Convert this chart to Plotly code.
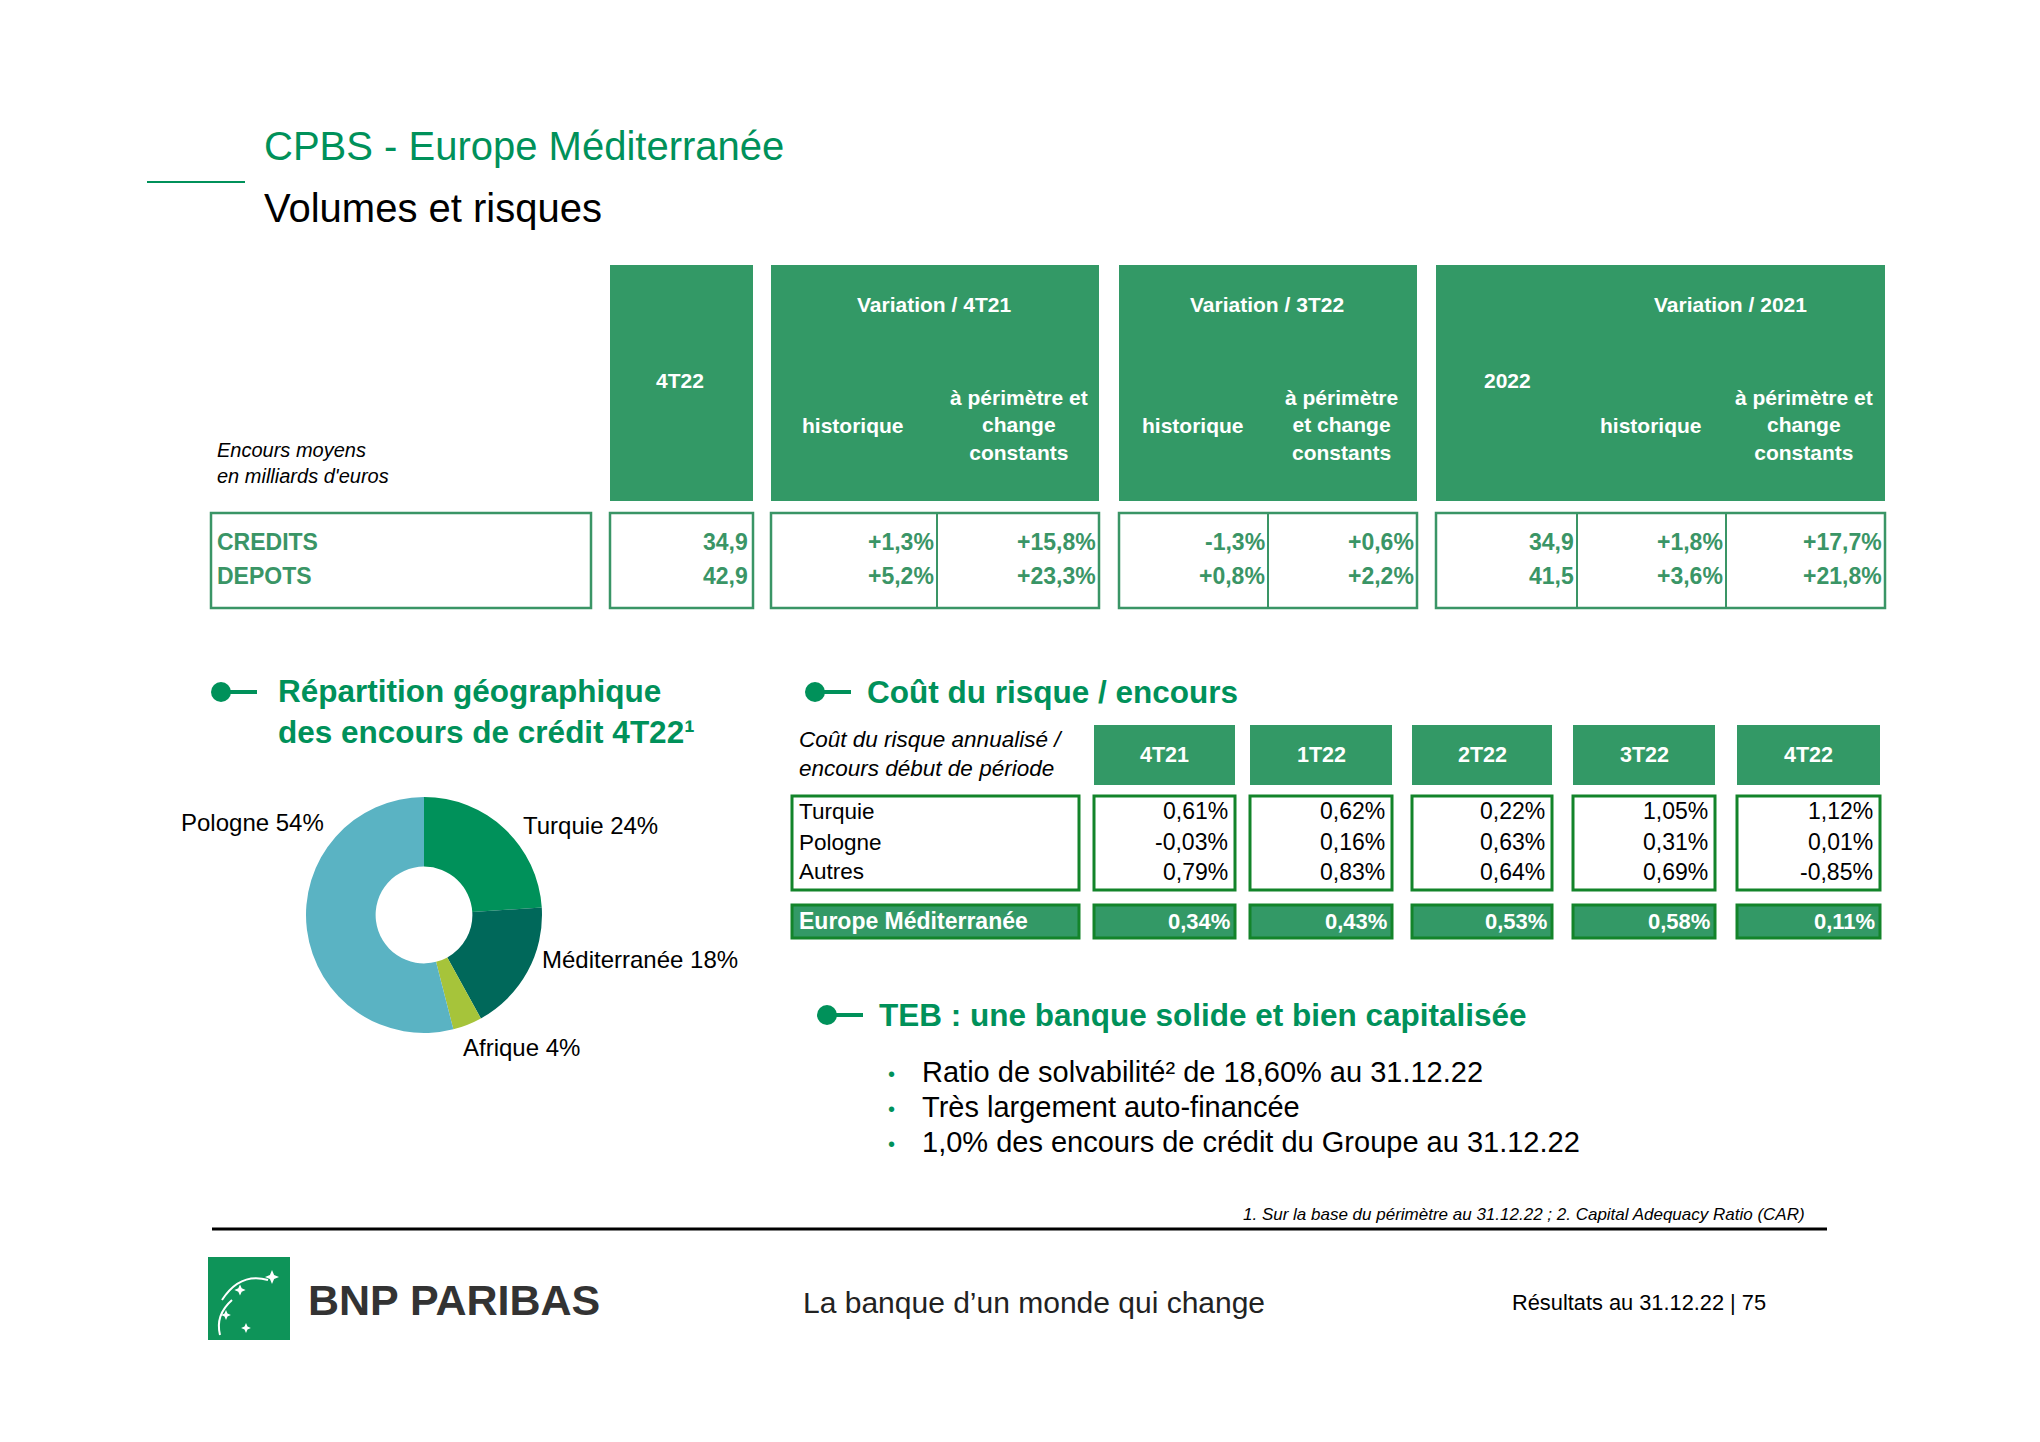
import plotly.graph_objects as go

W, H = 2040, 1442
OFF = 8  # the page body adds an 8px margin around the figure

# --- data ---------------------------------------------------------------
top_rows = ["CREDITS", "DEPOTS"]
encours_4t22 = [34.9, 42.9]
var_4t21_hist = [1.3, 5.2]
var_4t21_const = [15.8, 23.3]
var_3t22_hist = [-1.3, 0.8]
var_3t22_const = [0.6, 2.2]
encours_2022 = [34.9, 41.5]
var_2021_hist = [1.8, 3.6]
var_2021_const = [17.7, 21.8]

geo_labels = ["Turquie", "Méditerranée", "Afrique", "Pologne"]
geo_share = [24, 18, 4, 54]
geo_colors = ["#00915a", "#00685a", "#a6c43a", "#5ab3c3"]

cdr_periods = ["4T21", "1T22", "2T22", "3T22", "4T22"]
cdr_rows = ["Turquie", "Pologne", "Autres"]
cdr_turquie = [0.61, 0.62, 0.22, 1.05, 1.12]
cdr_pologne = [-0.03, 0.16, 0.63, 0.31, 0.01]
cdr_autres = [0.79, 0.83, 0.64, 0.69, -0.85]
cdr_europe_med = [0.34, 0.43, 0.53, 0.58, 0.11]

teb_points = [
    "Ratio de solvabilité² de 18,60% au 31.12.22",
    "Très largement auto-financée",
    "1,0% des encours de crédit du Groupe au 31.12.22",
]

# --- helpers -------------------------------------------------------------
FONT = "Liberation Sans, Arial, sans-serif"
GREEN = "#00915a"
HEAD = "#339966"
BOX = "#3a9566"
DARK = "#13842a"

shapes = []
annotations = []


def X(x):
    return (x - OFF) / W


def Y(y):
    return 1 - (y - OFF) / H


def rect(x0, y0, x1, y1, fill="rgba(0,0,0,0)", line=None, width=0):
    shapes.append(dict(type="rect", xref="paper", yref="paper",
                       x0=X(x0), x1=X(x1), y0=Y(y1), y1=Y(y0),
                       fillcolor=fill, line=dict(color=line or fill, width=width)))


def hline(x0, x1, y, color, width):
    shapes.append(dict(type="line", xref="paper", yref="paper",
                       x0=X(x0), x1=X(x1), y0=Y(y), y1=Y(y),
                       line=dict(color=color, width=width)))


def vline(x, y0, y1, color, width):
    shapes.append(dict(type="line", xref="paper", yref="paper",
                       x0=X(x), x1=X(x), y0=Y(y0), y1=Y(y1),
                       line=dict(color=color, width=width)))


def text(x, y, s, size, color="#000000", anchor="left", align="left"):
    annotations.append(dict(xref="paper", yref="paper", x=X(x), y=Y(y), text=s,
                            showarrow=False, xanchor=anchor, yanchor="middle",
                            align=align, borderpad=0,
                            font=dict(size=size, color=color, family=FONT)))


def bullet_icon(x, y):
    shapes.append(dict(type="circle", xref="paper", yref="paper",
                       x0=X(x), x1=X(x + 20), y0=Y(y + 10), y1=Y(y - 10),
                       fillcolor=GREEN, line=dict(width=0)))
    hline(x + 10, x + 46, y, GREEN, 4)


def pct(v, sign=True):
    s = f"{v:+.1f}%" if sign else f"{v:.1f}"
    return s.replace(".", ",")


def pct2(v):
    return f"{v:.2f}%".replace(".", ",")


# --- title ---------------------------------------------------------------
hline(147, 245, 182, GREEN, 2)
text(263, 146, "CPBS - Europe Méditerranée", 40, GREEN)
text(263, 208, "Volumes et risques", 40, "#000000")

# --- top table -----------------------------------------------------------
blocks = [(610, 753), (771, 1099), (1119, 1417), (1436, 1885)]
for x0, x1 in blocks:
    rect(x0, 265, x1, 501, fill=HEAD)
    rect(x0, 513, x1, 608, line=BOX, width=2.5)
rect(211, 513, 591, 608, line=BOX, width=2.5)
for xd in [937, 1268, 1577, 1726]:
    vline(xd, 513, 608, BOX, 2)

hs = 21
text(680, 380, "<b>4T22</b>", hs, "white", "center")
text(934, 304, "<b>Variation / 4T21</b>", hs, "white", "center")
text(853, 425, "<b>historique</b>", hs, "white", "center")
text(1019, 425, "<b>à périmètre et<br>change<br>constants</b>", hs, "white", "center", "center")
text(1267, 304, "<b>Variation / 3T22</b>", hs, "white", "center")
text(1193, 425, "<b>historique</b>", hs, "white", "center")
text(1341, 425, "<b>à périmètre<br>et change<br>constants</b>", hs, "white", "center", "center")
text(1730, 304, "<b>Variation / 2021</b>", hs, "white", "center")
text(1507, 380, "<b>2022</b>", hs, "white", "center")
text(1651, 425, "<b>historique</b>", hs, "white", "center")
text(1804, 425, "<b>à périmètre et<br>change<br>constants</b>", hs, "white", "center", "center")

text(216, 463, "<i>Encours moyens<br>en milliards d'euros</i>", 20, "#000000")

row_y = [542, 576]
columns = [(encours_4t22, False), (var_4t21_hist, True), (var_4t21_const, True),
           (var_3t22_hist, True), (var_3t22_const, True), (encours_2022, False),
           (var_2021_hist, True), (var_2021_const, True)]
col_right = [749, 935, 1097, 1266, 1415, 1575, 1724, 1883]
for i, name in enumerate(top_rows):
    text(216, row_y[i], f"<b>{name}</b>", 23, BOX)
    for (vals, sign), xr in zip(columns, col_right):
        text(xr, row_y[i], f"<b>{pct(vals[i], sign)}</b>", 23, BOX, "right")

# --- geographic split ----------------------------------------------------
bullet_icon(211, 692)
text(277, 711, "<b>Répartition géographique<br>des encours de crédit 4T22¹</b>", 31.5, GREEN)

cx, cy, r = 424, 915, 118
pie = go.Pie(labels=geo_labels, values=geo_share, sort=False, direction="clockwise",
             rotation=0, hole=0.41, textinfo="none", hoverinfo="label+percent",
             marker=dict(colors=geo_colors, line=dict(width=0)), showlegend=False,
             domain=dict(x=[X(cx - r), X(cx + r)], y=[Y(cy + r), Y(cy - r)]))

label_pos = {"Turquie": (522, 825, "left"), "Méditerranée": (541, 959, "left"),
             "Afrique": (462, 1047, "left"), "Pologne": (325, 822, "right")}
for name, share in zip(geo_labels, geo_share):
    lx, ly, anc = label_pos[name]
    text(lx, ly, f"{name} {share}%", 24, "#000000", anc)

# --- cost of risk --------------------------------------------------------
bullet_icon(805, 692)
text(866, 692, "<b>Coût du risque / encours</b>", 31.5, GREEN)
text(798, 754, "<i>Coût du risque annualisé /<br>encours début de période</i>", 22.5, "#000000")

cdr_cols = [(1094, 1235), (1250, 1392), (1412, 1552), (1573, 1715), (1737, 1880)]
rect(792, 796, 1079, 890, line=DARK, width=3)
rect(792, 905, 1079, 938, fill=HEAD, line=DARK, width=3)
text(798, 921, "<b>Europe Méditerranée</b>", 23, "white")
cdr_y = [811, 842, 872]
for name, yy in zip(cdr_rows, cdr_y):
    text(798, yy, name, 22.5, "#000000")
cdr_vals = [cdr_turquie, cdr_pologne, cdr_autres]
for j, (x0, x1) in enumerate(cdr_cols):
    rect(x0, 725, x1, 785, fill=HEAD)
    text((x0 + x1) / 2, 755, f"<b>{cdr_periods[j]}</b>", 21.5, "white", "center")
    rect(x0, 796, x1, 890, line=DARK, width=3)
    for vals, yy in zip(cdr_vals, cdr_y):
        text(x1 - 6, yy, pct2(vals[j]), 23, "#000000", "right")
    rect(x0, 905, x1, 938, fill=HEAD, line=DARK, width=3)
    text(x1 - 4, 921, f"<b>{pct2(cdr_europe_med[j])}</b>", 22, "white", "right")

# --- TEB -------------------------------------------------------------------
bullet_icon(817, 1015)
text(878, 1015, "<b>TEB : une banque solide et bien capitalisée</b>", 31.5, GREEN)
for k, line in enumerate(teb_points):
    yy = 1072 + k * 35
    text(891, yy + 2, "•", 20, GREEN, "center")
    text(921, yy, line, 29, "#000000")

# --- footer ----------------------------------------------------------------
text(1806, 1214, "<i>1. Sur la base du périmètre au 31.12.22 ; 2. Capital Adequacy Ratio (CAR)</i>",
     17, "#000000", "right")
hline(212, 1827, 1229, "#000000", 3)

rect(208, 1257, 290, 1340, fill="#13a05f")
rect(208, 1257, 290, 1340, fill="rgba(0,110,70,0.25)")
# stylised stars of the logo
for sx, sy, sc in [(272, 1277, 1.0), (240, 1290, 0.8), (226, 1315, 0.7), (246, 1328, 0.7)]:
    d = 7 * sc
    path = (f"M {X(sx)},{Y(sy - d)} L {X(sx + d * 0.3)},{Y(sy - d * 0.3)} L {X(sx + d)},{Y(sy)} "
            f"L {X(sx + d * 0.3)},{Y(sy + d * 0.3)} L {X(sx)},{Y(sy + d)} L {X(sx - d * 0.3)},{Y(sy + d * 0.3)} "
            f"L {X(sx - d)},{Y(sy)} L {X(sx - d * 0.3)},{Y(sy - d * 0.3)} Z")
    shapes.append(dict(type="path", xref="paper", yref="paper", path=path,
                       fillcolor="white", line=dict(width=0)))
shapes.append(dict(type="path", xref="paper", yref="paper",
                   path=f"M {X(222)},{Y(1300)} Q {X(240)},{Y(1272)} {X(268)},{Y(1280)}",
                   line=dict(color="white", width=2)))
shapes.append(dict(type="path", xref="paper", yref="paper",
                   path=f"M {X(220)},{Y(1335)} Q {X(215)},{Y(1315)} {X(232)},{Y(1300)}",
                   line=dict(color="white", width=2)))

text(307, 1300, "<b>BNP PARIBAS</b>", 43, "#333333")
text(1034, 1302, "La banque d’un monde qui change", 30, "#222222", "center")
text(1767, 1302, "Résultats au 31.12.22 | 75", 21.8, "#000000", "right")

fig = go.Figure(pie)
fig.update_layout(width=W, height=H, margin=dict(l=0, r=0, t=0, b=0),
                  paper_bgcolor="white", plot_bgcolor="white",
                  shapes=shapes, annotations=annotations)
fig.write_html("out.html")
